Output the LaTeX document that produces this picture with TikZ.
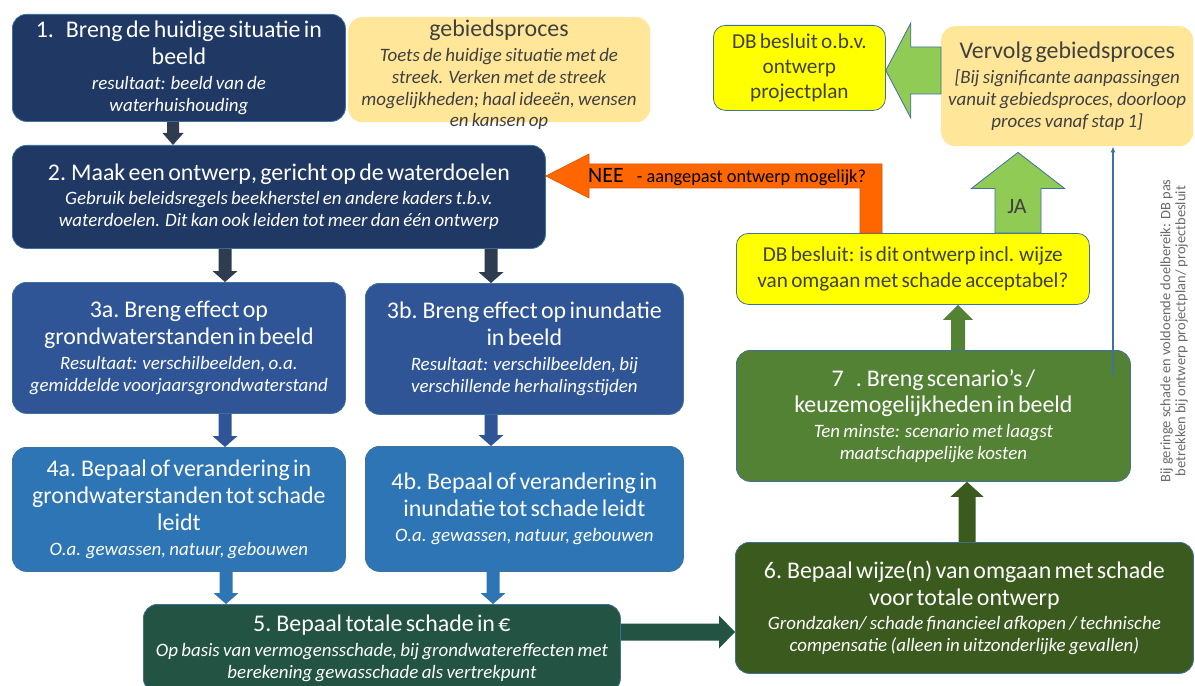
\documentclass[tikz,border=0pt]{standalone}
\usepackage{fontspec}
\setmainfont{Carlito}
\usetikzlibrary{calc,arrows.meta}
\definecolor{navy}{HTML}{203864}
\definecolor{cthree}{HTML}{2F5597}
\definecolor{cfour}{HTML}{2E75B6}
\definecolor{cfive}{HTML}{235443}
\definecolor{csix}{HTML}{3A5A1E}
\definecolor{cseven}{HTML}{548235}
\definecolor{yel}{HTML}{FFFF00}
\definecolor{lor}{HTML}{FFE699}
\definecolor{lgreen}{HTML}{8FCB55}
\definecolor{orng}{HTML}{FF6600}
\definecolor{orngd}{HTML}{D9560A}
\definecolor{arrdark}{HTML}{2F3C4F}
\definecolor{bordc}{HTML}{41719C}
\definecolor{darktext}{HTML}{404040}
\definecolor{notegray}{HTML}{6A6A6A}
\newcommand\tf{\fontsize{24}{27}\selectfont}
\newcommand\itf{\fontsize{19}{22}\selectfont\itshape}
\newcommand\yf{\fontsize{21.3}{25.5}\selectfont}
\newcommand\ttl[1]{{\tf #1\par}}
\newcommand\itl[1]{{\itf\vspace{2.5bp}#1\par}}
% block arrows: style, from, to, half body, half head, head length
\newcommand\blkdown[6]{\path[#1] let \p1=(#2), \p2=(#3) in (\x1-#4,\y1) -- (\x1-#4,\y2+#6) -- (\x1-#5,\y2+#6) -- (\x1,\y2) -- (\x1+#5,\y2+#6) -- (\x1+#4,\y2+#6) -- (\x1+#4,\y1) -- cycle;}
\newcommand\blkup[6]{\path[#1] let \p1=(#2), \p2=(#3) in (\x1-#4,\y1) -- (\x1-#4,\y2-#6) -- (\x1-#5,\y2-#6) -- (\x1,\y2) -- (\x1+#5,\y2-#6) -- (\x1+#4,\y2-#6) -- (\x1+#4,\y1) -- cycle;}
\newcommand\blkright[6]{\path[#1] let \p1=(#2), \p2=(#3) in (\x1,\y1+#4) -- (\x2-#6,\y1+#4) -- (\x2-#6,\y1+#5) -- (\x2,\y1) -- (\x2-#6,\y1-#5) -- (\x2-#6,\y1-#4) -- (\x1,\y1-#4) -- cycle;}
\newcommand\blkleft[6]{\path[#1] let \p1=(#2), \p2=(#3) in (\x1,\y1+#4) -- (\x2+#6,\y1+#4) -- (\x2+#6,\y1+#5) -- (\x2,\y1) -- (\x2+#6,\y1-#5) -- (\x2+#6,\y1-#4) -- (\x1,\y1-#4) -- cycle;}
\tikzset{
  bx/.style={rounded corners=14bp, anchor=north west, inner sep=0pt, align=center, text=white},
  bord/.style={draw=bordc, line width=0.8bp},
}
\begin{document}
\begin{tikzpicture}[x=1bp,y=-1bp]
\fill[white] (0,0) rectangle (1195,686);
\useasboundingbox (0,0) rectangle (1195,686);

% boxes
\node[bx, bord, fill=navy, minimum width=333bp, minimum height=107bp, text width=325bp] (b1) at (12,14)
  {\ttl{1.\hspace{12bp}Breng de huidige situatie in\\beeld}\itl{resultaat: beeld van de\\waterhuishouding}};
\node[bx, fill=lor, minimum width=302bp, minimum height=105bp] (gp) at (348,17) {};
\node[align=center, text=darktext, inner sep=0pt, anchor=north, text width=300bp] (gpt) at (499,20)
  {\ttl{gebiedsproces}\itl{Toets de huidige situatie met de\\streek. Verken met de streek\\mogelijkheden; haal ideeën, wensen\\en kansen op}};
\node[bx, bord, fill=navy, minimum width=533bp, minimum height=103bp, text width=525bp] (b2) at (12,145)
  {\ttl{2. Maak een ontwerp, gericht op de waterdoelen}\itl{Gebruik beleidsregels beekherstel en andere kaders t.b.v.\\waterdoelen. Dit kan ook leiden tot meer dan één ontwerp}};
\node[bx, bord, fill=cthree, minimum width=333bp, minimum height=131bp, text width=325bp] (b3a) at (12,282)
  {\ttl{3a. Breng effect op\\grondwaterstanden in beeld}\itl{Resultaat: verschilbeelden, o.a.\\gemiddelde voorjaarsgrondwaterstand}};
\node[bx, bord, fill=cthree, minimum width=318bp, minimum height=131bp, text width=310bp] (b3b) at (365,283)
  {\ttl{3b. Breng effect op inundatie\\in beeld}\itl{Resultaat: verschilbeelden, bij\\verschillende herhalingstijden}};
\node[bx, bord, fill=cfour, minimum width=333bp, minimum height=124bp, text width=325bp] (b4a) at (12,447)
  {\ttl{4a. Bepaal of verandering in\\grondwaterstanden tot schade\\leidt}\itl{O.a. gewassen, natuur, gebouwen}};
\node[bx, bord, fill=cfour, minimum width=318bp, minimum height=125bp, text width=310bp] (b4b) at (365,446)
  {\ttl{4b. Bepaal of verandering in\\inundatie tot schade leidt}\itl{O.a. gewassen, natuur, gebouwen}};
\node[bx, bord, fill=cfive, minimum width=477bp, minimum height=88bp, text width=469bp] (b5) at (143,604)
  {\ttl{5. Bepaal totale schade in €}\itl{Op basis van vermogensschade, bij grondwatereffecten met\\berekening gewasschade als vertrekpunt}};
\node[bx, bord, fill=csix, minimum width=458bp, minimum height=131bp, text width=450bp] (b6) at (735,542)
  {\ttl{6. Bepaal wijze(n) van omgaan met schade\\voor totale ontwerp}\itl{Grondzaken/ schade financieel afkopen / technische\\compensatie (alleen in uitzonderlijke gevallen)}};
\node[bx, bord, fill=cseven, minimum width=394bp, minimum height=131bp, text width=386bp] (b7) at (736,350)
  {\ttl{7\enspace. Breng scenario’s /\\keuzemogelijkheden in beeld}\itl{Ten minste: scenario met laagst\\maatschappelijke kosten}};
\node[bx, bord, fill=yel, text=darktext, rounded corners=12bp, minimum width=353bp, minimum height=71bp, text width=345bp] (dbq) at (736,233)
  {\yf DB besluit: is dit ontwerp incl. wijze\\van omgaan met schade acceptabel?\par};
\node[bx, bord, fill=yel, text=darktext, rounded corners=12bp, minimum width=172bp, minimum height=85bp, text width=166bp] (dbo) at (713,25)
  {\yf DB besluit o.b.v.\\ontwerp\\projectplan\par};
\node[bx, fill=lor, text=darktext, minimum width=252bp, minimum height=120bp, text width=248bp] (vg) at (941,26)
  {\ttl{Vervolg gebiedsproces}\itl{[Bij significante aanpassingen\\vanuit gebiedsproces, doorloop\\proces vanaf stap 1]}};

% small block arrows
\blkdown{fill=arrdark}{173,0 |- b1.south}{173,0 |- b2.north}{6bp}{10.5bp}{12bp}
\blkdown{fill=arrdark}{225,0 |- b2.south}{225,0 |- b3a.north}{6.5bp}{12.5bp}{11bp}
\blkdown{fill=arrdark}{491,0 |- b2.south}{491,0 |- b3b.north}{6.5bp}{12.5bp}{11bp}
\blkdown{fill=cthree}{225,0 |- b3a.south}{225,0 |- b4a.north}{6.5bp}{12.5bp}{11bp}
\blkdown{fill=cthree}{491,0 |- b3b.south}{491,0 |- b4b.north}{6.5bp}{12.5bp}{11bp}
\blkdown{fill=cfour}{226,0 |- b4a.south}{226,0 |- b5.north}{6.5bp}{12.5bp}{11bp}
\blkdown{fill=cfour}{493,0 |- b4b.south}{493,0 |- b5.north}{6.5bp}{12.5bp}{11bp}
\blkright{fill=cfive}{b5.east |- 0,632}{b6.west |- 0,632}{8.5bp}{16.5bp}{16bp}
\blkup{fill=csix}{967,0 |- b6.north}{967,0 |- b7.south}{8.5bp}{16.5bp}{15bp}
\blkup{fill=cseven}{958,0 |- b7.north}{958,0 |- dbq.south}{7bp}{15bp}{15bp}

% big green arrows
\blkup{fill=lgreen, bord}{1018,0 |- dbq.north}{$(1018,0 |- vg.south)+(0,6)$}{23bp}{46.5bp}{36bp}
\blkleft{fill=lgreen, bord}{vg.west |- 0,70.5}{dbo.east |- 0,70.5}{23.5bp}{47.5bp}{25bp}
\node[font=\fontsize{22}{22}\selectfont, text=darktext, inner sep=0pt] (ja) at (1017,207) {JA};

% NEE arrow
\path[fill=orng, draw=orngd, line width=0.6bp] (860,0 |- dbq.north) -- (860,188) -- (589,188) -- (589,198)
  -- (b2.east |- 0,176) -- (589,154) -- (589,164) -- (882,164) -- (882,0 |- dbq.north) -- cycle;
\node[anchor=base west, inner sep=0pt] (nee) at (588,183)
  {{\fontsize{22}{22}\selectfont NEE}\hspace{13bp}{\fontsize{18.4}{20}\selectfont - aangepast ontwerp mogelijk?}};

% thin line from 7 to Vervolg
\coordinate (lstart) at (1113,375);
\draw[bordc, line width=1.4bp, -{Latex[length=6bp,width=5bp]}] (lstart) -- (lstart |- vg.south);

% vertical note
\node[rotate=90, align=center, text=notegray, inner sep=0pt, font=\fontsize{14.5}{15}\selectfont] (note) at (1174,331)
  {Bij geringe schade en voldoende doelbereik: DB pas\\betrekken bij ontwerp projectplan/ projectbesluit};
\end{tikzpicture}
\end{document}
